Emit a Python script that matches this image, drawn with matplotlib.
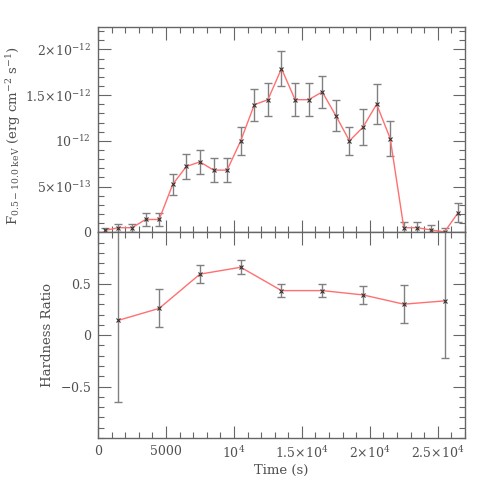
import numpy as np
import matplotlib
matplotlib.use("Agg")
import matplotlib.pyplot as plt
from matplotlib.ticker import MultipleLocator, FixedLocator, FixedFormatter

plt.rcParams['font.family'] = ['DejaVu Serif']
plt.rcParams['mathtext.fontset'] = 'dejavuserif'

# light curve, 1 ks bins
t_flux = [500, 1500, 2500, 3500, 4500, 5500, 6500, 7500, 8500, 9500,
          10500, 11500, 12500, 13500, 14500, 15500, 16500, 17500, 18500, 19500,
          20500, 21500, 22500, 23500, 24500, 25500, 26500]
flux = [0.02, 0.05, 0.05, 0.14, 0.14, 0.525, 0.72, 0.77, 0.68, 0.68,
        1.00, 1.395, 1.45, 1.79, 1.45, 1.45, 1.535, 1.275, 1.00, 1.15,
        1.40, 1.025, 0.05, 0.05, 0.025, 0.005, 0.215]
flux_err = [0.03, 0.045, 0.045, 0.07, 0.07, 0.113, 0.133, 0.135, 0.133, 0.133,
            0.15, 0.173, 0.18, 0.195, 0.18, 0.18, 0.178, 0.17, 0.15, 0.2,
            0.22, 0.19, 0.06, 0.06, 0.05, 0.04, 0.1]

# hardness ratio, 3 ks bins
t_hr = [1500, 4500, 7500, 10500, 13500, 16500, 19500, 22500, 25500]
hr = [0.144, 0.26, 0.593, 0.66, 0.433, 0.433, 0.391, 0.301, 0.333]
hr_err_lo = [0.794, 0.177, 0.09, 0.066, 0.064, 0.064, 0.085, 0.187, 0.554]
hr_err_hi = [1.0, 0.185, 0.09, 0.066, 0.064, 0.064, 0.085, 0.187, 0.8]

flux_ticks = [0, 0.5e-12, 1e-12, 1.5e-12, 2e-12]
flux_labels = ['0', r'$5{\times}10^{-13}$', r'$10^{-12}$', r'$1.5{\times}10^{-12}$', r'$2{\times}10^{-12}$']
time_ticks = [0, 5000, 10000, 15000, 20000, 25000]
time_labels = ['0', '5000', r'$10^{4}$', r'$1.5{\times}10^{4}$', r'$2{\times}10^{4}$', r'$2.5{\times}10^{4}$']
hr_ticks = [-0.5, 0, 0.5]
hr_labels = [r'$-0.5$', '0', '0.5']

txt = '#505050'
axc = '#666666'
errc = '#808080'
linec = '#ff7070'

fig = plt.figure(figsize=(4.91, 4.91), dpi=100)
ax1 = fig.add_axes([0.1996, 0.5269, 0.7474, 0.4181])
ax2 = fig.add_axes([0.1996, 0.108, 0.7474, 0.4189])

scale = 1e-12
ax1.errorbar(t_flux, np.array(flux) * scale, yerr=np.array(flux_err) * scale,
             fmt='none', ecolor=errc, elinewidth=1, capsize=3, capthick=1)
ax1.plot(t_flux, np.array(flux) * scale, color=linec, lw=1)
ax1.plot(t_flux, np.array(flux) * scale, 'x', color='#333333', ms=3, mew=0.8)

ax2.errorbar(t_hr, hr, yerr=[hr_err_lo, hr_err_hi],
             fmt='none', ecolor=errc, elinewidth=1, capsize=3, capthick=1)
ax2.plot(t_hr, hr, color=linec, lw=1)
ax2.plot(t_hr, hr, 'x', color='#333333', ms=3, mew=0.8)

ax1.set_xlim(0, 27000)
ax1.set_ylim(0, 2.245e-12)
ax2.set_xlim(0, 27000)
ax2.set_ylim(-1, 1)

for ax in (ax1, ax2):
    for s in ax.spines.values():
        s.set_color(axc)
        s.set_linewidth(1)
    ax.xaxis.set_major_locator(FixedLocator(time_ticks))
    ax.xaxis.set_minor_locator(MultipleLocator(1000))
    ax.tick_params(which='both', direction='in', top=True, right=True,
                   color=axc, labelcolor=txt, labelsize=9, width=0.8)
    ax.tick_params(which='major', length=9, pad=5)
    ax.tick_params(which='minor', length=4.5)

ax1.yaxis.set_major_locator(FixedLocator(flux_ticks))
ax1.yaxis.set_major_formatter(FixedFormatter(flux_labels))
ax1.yaxis.set_minor_locator(MultipleLocator(1e-13))
ax1.tick_params(axis='x', labelbottom=False)

ax2.yaxis.set_major_locator(FixedLocator(hr_ticks))
ax2.yaxis.set_major_formatter(FixedFormatter(hr_labels))
ax2.yaxis.set_minor_locator(MultipleLocator(0.1))
ax2.xaxis.set_major_formatter(FixedFormatter(time_labels))

ax1.set_ylabel(r'F$_{\rm 0.5-10.0\ keV}$ (erg cm$^{-2}$ s$^{-1}$)', color=txt, fontsize=9.5)
ax1.yaxis.set_label_coords(-0.205, 0.47)
ax2.set_ylabel('Hardness Ratio', color=txt, fontsize=9.5)
ax2.yaxis.set_label_coords(-0.12, 0.5)
ax2.set_xlabel('Time (s)', color=txt, fontsize=9.5, labelpad=2)

fig.savefig('out.png', dpi=100)
